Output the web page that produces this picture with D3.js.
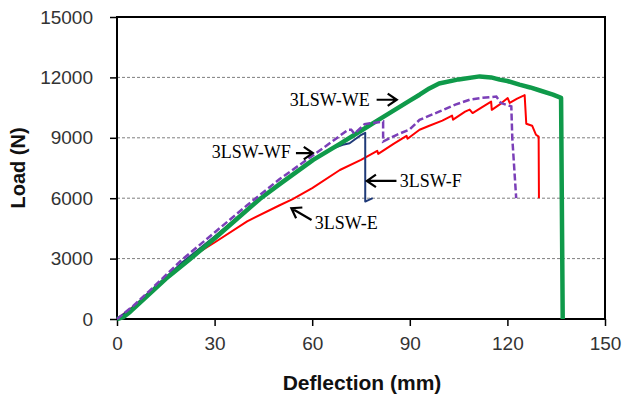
<!DOCTYPE html>
<html>
<head>
<meta charset="utf-8">
<script src="https://cdn.jsdelivr.net/npm/d3@7"></script>
<style>
  body { margin: 0; background: #fff; }
  svg { display: block; }
</style>
</head>
<body>
<div id="chart"></div>
<script>
// axis ticks
const deflTicks = [0, 30, 60, 90, 120, 150];
const loadTicks = [0, 3000, 6000, 9000, 12000, 15000];

// 3LSW-E (red)
const eDefl = [0, 5, 10, 15, 20, 24.5, 30, 40, 50, 54, 60, 68.5, 75, 80, 80.3, 85, 89, 89.3, 93, 96, 100, 103, 103.3, 107, 108.4, 109.3, 112, 115, 115.2, 118, 120.1, 120.7, 123, 125.3, 125.8, 127.6, 128.8, 129.6, 129.7];
const eLoad = [0, 600, 1300, 2000, 2700, 3250, 3800, 4850, 5650, 5950, 6500, 7400, 7900, 8350, 8200, 8700, 9100, 8950, 9400, 9600, 9850, 10100, 9900, 10300, 10400, 10230, 10500, 10800, 10390, 10700, 10975, 10730, 10950, 11120, 9700, 9600, 9150, 9060, 6000];

// 3LSW-F (navy)
const fDefl = [0, 5, 10, 20, 30, 40, 50, 60, 66, 69.4, 71.5, 75.1, 76.3, 76.3, 78.6];
const fLoad = [0, 600, 1350, 2800, 4100, 5450, 6700, 7850, 8450, 8650, 8730, 9150, 9250, 5830, 6000];

// 3LSW-WF (purple, dashed)
const wfDefl = [0, 5, 10, 20, 30, 40, 50, 60, 66, 71, 72, 73, 76.1, 81.8, 81.8, 86, 90, 93, 99, 104, 108.4, 112, 116.6, 118, 121.2, 121.5, 122.7];
const wfLoad = [0, 650, 1400, 2950, 4300, 5650, 6950, 8100, 8800, 9400, 9400, 9200, 9680, 9810, 8815, 9150, 9420, 9890, 10300, 10650, 10890, 10980, 11050, 10730, 10560, 9000, 6000];

// 3LSW-WE (green, thick)
const weDefl = [0, 2, 4, 6, 10, 15, 22.4, 30, 43.9, 50, 60.3, 68.5, 75, 80, 90, 93, 96, 99, 105, 111.5, 115, 117.6, 120, 123.7, 127, 130, 134, 136.5, 137];
const weLoad = [0, 100, 350, 650, 1250, 2000, 2970, 4000, 5960, 6700, 7900, 8700, 9350, 9850, 10850, 11140, 11450, 11700, 11900, 12050, 12000, 11890, 11820, 11640, 11500, 11350, 11140, 10980, 0];

// annotation labels (data units)
const labelText = ['3LSW-WE', '3LSW-WF', '3LSW-F', '3LSW-E'];
const labelX = [53.1, 29.1, 86.9, 60.8];
const labelY = [10590, 8000, 6570, 4470];
// arrows: tail -> tip (data units)
const arrowX0 = [79.8, 55.0, 85.9, 59.8];
const arrowY0 = [10890, 8240, 6860, 4915];
const arrowX1 = [86.0, 60.2, 76.8, 53.6];
const arrowY1 = [10890, 8240, 6860, 5500];

const width = 624, height = 397;
const margin = { top: 17, right: 19, bottom: 78, left: 117 };

const svg = d3.select('#chart').append('svg')
  .attr('width', width)
  .attr('height', height);

const x = d3.scaleLinear().domain([0, 150]).range([margin.left, width - margin.right]);
const y = d3.scaleLinear().domain([0, 15000]).range([height - margin.bottom, margin.top]);

// grid
svg.append('g').selectAll('line')
  .data(loadTicks.filter(d => d > 0 && d < 15000))
  .enter().append('line')
  .attr('x1', x(0)).attr('x2', x(150))
  .attr('y1', d => y(d)).attr('y2', d => y(d))
  .attr('stroke', '#7f7f7f')
  .attr('stroke-width', 1)
  .attr('stroke-dasharray', '3,2');

// axes
const xAxis = svg.append('g')
  .attr('transform', `translate(0,${y(0)})`)
  .call(d3.axisBottom(x).tickValues(deflTicks).tickSize(7).tickPadding(11));
const yAxis = svg.append('g')
  .attr('transform', `translate(${x(0)},0)`)
  .call(d3.axisLeft(y).tickValues(loadTicks).tickFormat(d3.format('d')).tickSize(7).tickPadding(17));

[xAxis, yAxis].forEach(g => {
  g.select('.domain').remove();
  g.selectAll('.tick line').attr('stroke', '#000').attr('stroke-width', 1.5);
  g.selectAll('.tick text')
    .attr('font-family', 'Liberation Sans, Arial, sans-serif')
    .attr('font-size', 19)
    .attr('fill', '#333');
});

// plot frame
svg.append('rect')
  .attr('x', x(0)).attr('y', y(15000))
  .attr('width', x(150) - x(0)).attr('height', y(0) - y(15000))
  .attr('fill', 'none')
  .attr('stroke', '#000')
  .attr('stroke-width', 2);

const line = d3.line().x(d => x(d[0])).y(d => y(d[1]));
const zip = (a, b) => a.map((v, i) => [v, b[i]]);

svg.append('path').datum(zip(eDefl, eLoad))
  .attr('d', line).attr('fill', 'none')
  .attr('stroke', '#ff0000').attr('stroke-width', 2).attr('stroke-linejoin', 'round');

svg.append('path').datum(zip(fDefl, fLoad))
  .attr('d', line).attr('fill', 'none')
  .attr('stroke', '#1f3a78').attr('stroke-width', 2).attr('stroke-linejoin', 'round');

svg.append('path').datum(zip(weDefl, weLoad))
  .attr('d', line).attr('fill', 'none')
  .attr('stroke', '#0f9a4a').attr('stroke-width', 4.5).attr('stroke-linejoin', 'round');

svg.append('path').datum(zip(wfDefl, wfLoad))
  .attr('d', line).attr('fill', 'none')
  .attr('stroke', '#7b3fb8').attr('stroke-width', 2.5)
  .attr('stroke-dasharray', '7,3');

// annotations
svg.append('g').selectAll('text')
  .data(labelText)
  .enter().append('text')
  .attr('x', (d, i) => x(labelX[i]))
  .attr('y', (d, i) => y(labelY[i]))
  .attr('font-family', 'Liberation Serif, Times New Roman, serif')
  .attr('font-size', 18)
  .attr('fill', '#000')
  .text(d => d);

const arrows = svg.append('g')
  .attr('fill', 'none').attr('stroke', '#000').attr('stroke-width', 2.2);
labelText.forEach((t, i) => {
  const x0 = x(arrowX0[i]), y0 = y(arrowY0[i]);
  const x1 = x(arrowX1[i]), y1 = y(arrowY1[i]);
  const ang = Math.atan2(y1 - y0, x1 - x0);
  const h = 11, spread = 0.6;
  const p = d3.path();
  p.moveTo(x0, y0); p.lineTo(x1, y1);
  p.moveTo(x1 - h * Math.cos(ang - spread), y1 - h * Math.sin(ang - spread));
  p.lineTo(x1, y1);
  p.lineTo(x1 - h * Math.cos(ang + spread), y1 - h * Math.sin(ang + spread));
  arrows.append('path').attr('d', p.toString());
});

// axis titles
svg.append('text')
  .attr('x', (x(0) + x(150)) / 2 + 1)
  .attr('y', 390)
  .attr('text-anchor', 'middle')
  .attr('font-family', 'Liberation Sans, Arial, sans-serif')
  .attr('font-weight', 'bold')
  .attr('font-size', 21)
  .attr('fill', '#111')
  .text('Deflection (mm)');

svg.append('text')
  .attr('transform', `translate(25,${(y(0) + y(15000)) / 2}) rotate(-90)`)
  .attr('text-anchor', 'middle')
  .attr('font-family', 'Liberation Sans, Arial, sans-serif')
  .attr('font-weight', 'bold')
  .attr('font-size', 20)
  .attr('fill', '#111')
  .text('Load (N)');
</script>
</body>
</html>
